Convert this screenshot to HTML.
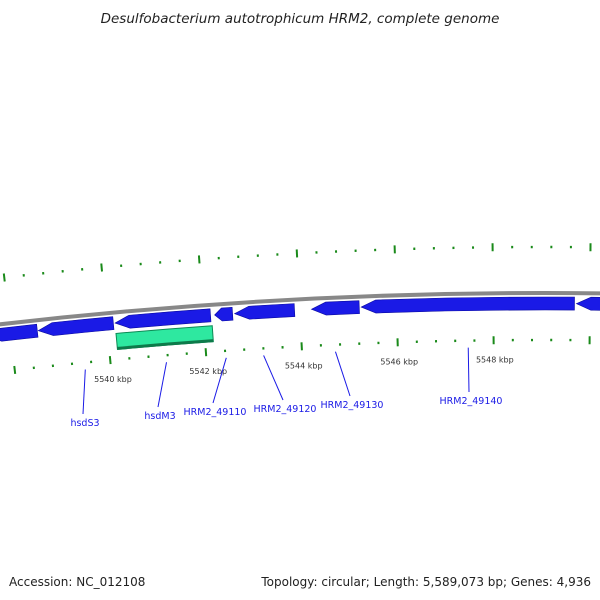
<!DOCTYPE html>
<html><head><meta charset="utf-8">
<style>
body{margin:0;background:#fff;}
svg{display:block;font-family:"DejaVu Sans","Liberation Sans",sans-serif;}
</style></head>
<body>
<svg id="c" width="600" height="600" viewBox="0 0 600 600">
<text x="300" y="23" text-anchor="middle" font-size="13.5" font-style="italic" fill="#222">Desulfobacterium autotrophicum HRM2, complete genome</text>
<text x="9" y="586" font-size="12" fill="#222">Accession: NC_012108</text>
<text x="591" y="586" font-size="12" fill="#222" text-anchor="end">Topology: circular; Length: 5,589,073 bp; Genes: 4,936</text>
<g id="g"></g>
</svg>
<script>
const geneStarts=[5537500,5538575,5540170,5542235,5542650,5544240,5545270,5549720];
const geneEnds  =[5538555,5540135,5542150,5542607,5543890,5545230,5549680,5550600];
const featStarts=[5540170];
const featEnds  =[5542170];
const tickKbp=[5540,5542,5544,5546,5548];
const labelNames=["hsdS3","hsdM3","HRM2_49110","HRM2_49120","HRM2_49130","HRM2_49140"];
const labelBp=[5539470,5541170,5542420,5543200,5544700,5547470];

const NS="http://www.w3.org/2000/svg";
const g=document.getElementById('g');
const CX=545,CY=5052,K=48/4712/1000,TH0=-0.0924;
function ang(bp){return TH0+(bp-5540000)*K;}
function pt(bp,r){const t=ang(bp);return [CX+r*Math.sin(t),CY-r*Math.cos(t)];}
function mk(tag,attrs){const e=document.createElementNS(NS,tag);for(const k in attrs)e.setAttribute(k,attrs[k]);g.appendChild(e);return e;}
function arcPath(b1,b2,r){const p1=pt(b1,r),p2=pt(b2,r);return `M${p1[0]},${p1[1]} A${r},${r} 0 0 1 ${p2[0]},${p2[1]}`;}

const bb=mk('path',{d:arcPath(5537000,5551000,4759),stroke:'#888',fill:'none','stroke-width':4});



for(let i=0;i<geneStarts.length;i++){
  const s=geneStarts[i],e=geneEnds[i],ro=4755,ri=4742,rm=(ro+ri)/2,ah=Math.min(300,(e-s)*0.4);
  const a=pt(s,rm),b=pt(s+ah,ro),c=pt(e,ro),d=pt(e,ri),f=pt(s+ah,ri);
  const p=mk('path',{d:`M${a[0]},${a[1]} L${b[0]},${b[1]} A${ro},${ro} 0 0 1 ${c[0]},${c[1]} L${d[0]},${d[1]} A${ri},${ri} 0 0 0 ${f[0]},${f[1]} Z`,fill:'#1a1ae6',stroke:'#0a0aa0','stroke-width':0.6});
  
  
}
for(let i=0;i<featStarts.length;i++){
  const s=featStarts[i],e=featEnds[i],ro=4738,ri=4722;
  const a=pt(s,ro),b=pt(e,ro),c=pt(e,ri),d=pt(s,ri);
  const p=mk('path',{d:`M${a[0]},${a[1]} A${ro},${ro} 0 0 1 ${b[0]},${b[1]} L${c[0]},${c[1]} A${ri},${ri} 0 0 0 ${d[0]},${d[1]} Z`,fill:'#2ee8a0',stroke:'#0d8a55','stroke-width':1});
  
  
  const q=mk('path',{d:arcPath(s,e,4723),stroke:'#0d7a4a',fill:'none','stroke-width':3});
  
  
}
for(let bp=5536000;bp<=5550000;bp+=400){
  const major=(bp%2000===0);
  [[4712,'inner'],[4805,'outer']].forEach(([r,n])=>{
    const h=major?4:1.2;
    const a=pt(bp,r-h),b=pt(bp,r+h);
    const l=mk('line',{x1:a[0],y1:a[1],x2:b[0],y2:b[1],stroke:'#1a8a1a','stroke-width':2});
    
    
  });
}
tickKbp.forEach(k=>{
  const p=pt(k*1000,4693);
  const t=mk('text',{x:p[0]+1,y:p[1]+3,'font-size':8,fill:'#333','text-anchor':'middle'});
  t.textContent=k+' kbp';
  
  
});
const labX=[85,160,215,285,352,471];
const labY=[426,419,415,412,408,404];
labelNames.forEach((nm,i)=>{
  const a=pt(labelBp[i],4708);
  const l=mk('line',{x1:a[0],y1:a[1]+3,x2:labX[i]-2,y2:labY[i]-12,stroke:'#1a1ae6','stroke-width':1});
  
  
  const t=mk('text',{x:labX[i],y:labY[i],'font-size':9.5,fill:'#1a1ae6','text-anchor':'middle'});
  t.textContent=nm;
  
  
});
</script>
</body></html>
